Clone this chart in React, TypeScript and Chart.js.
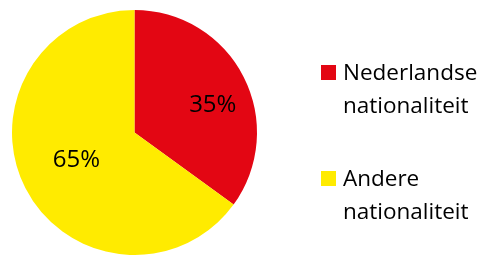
import React, { useEffect, useRef } from "react";
import { Chart, registerables } from "chart.js";

Chart.register(...registerables);

const categories: string[][] = [["Nederlandse", "nationaliteit"], ["Andere", "nationaliteit"]];
const values: number[] = [35, 65];
const valueLabels: string[] = ["35%", "65%"];
const colors: string[] = ["#E30613", "#FFEB00"];

const FONT = "'Open Sans', sans-serif";

const sliceLabels = {
  id: "sliceLabels",
  afterDatasetsDraw(chart: any) {
    const ctx = chart.ctx;
    const meta = chart.getDatasetMeta(0);
    const factors = [0.68, 0.52];
    const angleShift = [7, 2.6];
    ctx.save();
    ctx.font = `24px ${FONT}`;
    ctx.fillStyle = "#000";
    ctx.textAlign = "center";
    ctx.textBaseline = "middle";
    meta.data.forEach((arc: any, i: number) => {
      const { x, y, startAngle, endAngle, outerRadius } = arc.getProps(
        ["x", "y", "startAngle", "endAngle", "outerRadius"],
        true
      );
      const mid = (startAngle + endAngle) / 2 + (angleShift[i] * Math.PI) / 180;
      const r = outerRadius * factors[i];
      ctx.fillText(valueLabels[i], x + Math.cos(mid) * r, y + Math.sin(mid) * r + 1);
    });
    ctx.restore();
  },
};

const sideLegend = {
  id: "sideLegend",
  afterDraw(chart: any) {
    const ctx = chart.ctx;
    const boxX = 321;
    const textX = 343;
    const tops = [65, 171];
    const lineH = 33;
    ctx.save();
    ctx.font = `22.5px ${FONT}`;
    ctx.textAlign = "left";
    ctx.textBaseline = "alphabetic";
    categories.forEach((lines, i) => {
      ctx.fillStyle = colors[i];
      ctx.fillRect(boxX, tops[i], 15, 15);
      ctx.fillStyle = "#000";
      lines.forEach((t, j) => {
        ctx.fillText(t, textX, tops[i] + 15 + j * lineH);
      });
    });
    ctx.restore();
  },
};

export default function App() {
  const ref = useRef<HTMLCanvasElement | null>(null);
  useEffect(() => {
    document.body.style.margin = "0";
    if (!ref.current) return;
    const chart = new Chart(ref.current, {
      type: "pie",
      data: {
        labels: categories.map((c) => c.join(" ")),
        datasets: [
          {
            data: values,
            backgroundColor: colors,
            borderWidth: 0,
          },
        ],
      },
      options: {
        animation: false,
        responsive: false,
        layout: { padding: { left: 12, top: 10, right: 231, bottom: 0 } },
        plugins: {
          legend: { display: false },
          tooltip: { enabled: false },
        },
      },
      plugins: [sliceLabels, sideLegend],
    });
    return () => chart.destroy();
  }, []);
  return (
    <div style={{ width: 488, height: 255, background: "#fff" }}>
      <canvas ref={ref} width={488} height={255} />
    </div>
  );
}
